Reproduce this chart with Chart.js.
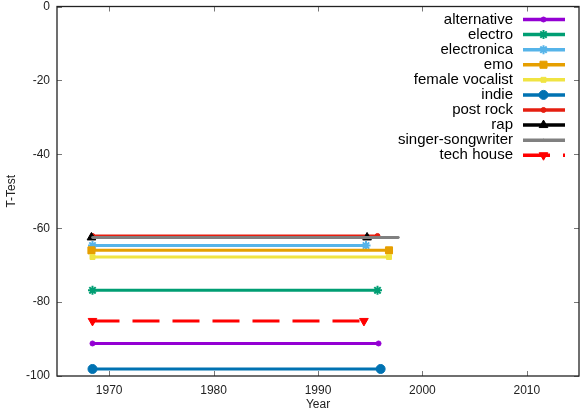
<!DOCTYPE html>
<html>
<head>
<meta charset="utf-8">
<script src="https://cdn.jsdelivr.net/npm/chart.js@4/dist/chart.umd.min.js"></script>
<style>
  html, body { margin: 0; padding: 0; background: #fff; }
</style>
</head>
<body>
<canvas id="myChart" width="587" height="412"></canvas>
<script>
// datos
const genres = ['alternative', 'electro', 'electronica', 'emo', 'female vocalist', 'indie', 'post rock', 'rap', 'singer-songwriter', 'tech house'];
const startYears = [1968.4, 1968.4, 1968.4, 1968.3, 1968.4, 1968.4, 1968.4, 1968.3, 1968.4, 1968.4];
const endYears = [1995.8, 1995.7, 1994.6, 1996.8, 1996.8, 1996.0, 1995.7, 1994.7, 1997.7, 1994.4];
const tTests = [-91.2, -76.8, -64.7, -66.0, -67.8, -98.1, -62.1, -62.5, -62.5, -85.1];
const xTicks = [1970, 1980, 1990, 2000, 2010];
const yTicks = [0, -20, -40, -60, -80, -100];

const colors = ['#9400d3', '#009e73', '#56b4e9', '#e69f00', '#f0e442', '#0072b2', '#e51e10', '#000000', '#808080', '#ff0000'];
const markers = ['circle', 'star', 'star', 'rect', 'rect', 'circle', 'circle', 'triangle', 'circle', 'triangle'];
const markerSize = [2.5, 4.5, 4.5, 5, 3.5, 4.5, 2.5, 5, 1, 5];
const markerRot = [0, 0, 0, 0, 0, 0, 0, 0, 0, 180];
const dashes = [[], [], [], [], [], [], [], [], [], [27, 13]];

const ctx = document.getElementById('myChart');
const font = '"Liberation Sans", Arial, sans-serif';

const datasets = genres.map((g, i) => ({
    label: g,
    data: [{ x: startYears[i], y: tTests[i] }, { x: endYears[i], y: tTests[i] }],
    borderColor: colors[i],
    backgroundColor: colors[i],
    borderWidth: 3,
    borderDash: dashes[i],
    showLine: true,
    pointStyle: markers[i],
    pointRadius: markerSize[i],
    pointRotation: markerRot[i],
    pointBorderWidth: markers[i] === 'star' ? 2 : 1,
    order: -i
}));

// marco con marcas hacia adentro, como gnuplot
const frame = {
    id: 'frame',
    afterDatasetsDraw(chart) {
        const c = chart.ctx;
        const a = chart.chartArea;
        const xs = chart.scales.x, ys = chart.scales.y;
        c.save();
        c.strokeStyle = '#777';
        c.lineWidth = 1;
        xTicks.forEach(t => {
            const px = Math.round(xs.getPixelForValue(t)) + 0.5;
            c.beginPath();
            c.moveTo(px, a.bottom); c.lineTo(px, a.bottom - 5);
            c.moveTo(px, a.top); c.lineTo(px, a.top + 5);
            c.stroke();
        });
        yTicks.forEach(t => {
            const py = Math.round(ys.getPixelForValue(t)) + 0.5;
            c.beginPath();
            c.moveTo(a.left, py); c.lineTo(a.left + 5, py);
            c.moveTo(a.right, py); c.lineTo(a.right - 5, py);
            c.stroke();
        });
        c.strokeStyle = '#222';
        c.lineWidth = 1.3;
        c.strokeRect(a.left, a.top, a.right - a.left, a.bottom - a.top);

        // leyenda
        c.font = '15px ' + font;
        c.textAlign = 'right';
        c.textBaseline = 'middle';
        chart.data.datasets.forEach((ds, i) => {
            const y = 19.5 + i * 15.08;
            c.fillStyle = '#000';
            c.fillText(ds.label, 513, y);
            c.strokeStyle = ds.borderColor;
            c.fillStyle = ds.borderColor;
            c.lineWidth = 3.5;
            c.setLineDash(ds.borderDash);
            c.beginPath();
            c.moveTo(523, y); c.lineTo(565, y);
            c.stroke();
            c.setLineDash([]);
            c.lineWidth = ds.pointBorderWidth;
            Chart.helpers.drawPoint(c, {
                pointStyle: ds.pointStyle,
                radius: ds.pointRadius,
                rotation: ds.pointRotation,
                borderWidth: ds.pointBorderWidth
            }, 543.5, y);
        });
        c.restore();
    }
};

new Chart(ctx, {
    type: 'scatter',
    data: { datasets: datasets },
    options: {
        responsive: false,
        animation: false,
        layout: { padding: { top: 6, right: 8, left: 0, bottom: 0 } },
        plugins: { legend: { display: false }, tooltip: { enabled: false } },
        scales: {
            x: {
                type: 'linear',
                min: 1965,
                max: 2015,
                afterBuildTicks: s => { s.ticks = xTicks.map(v => ({ value: v })); },
                afterFit: s => { s.height = 36; s.paddingLeft = 0; s.paddingRight = 0; },
                grid: { display: false, drawTicks: false },
                border: { display: false },
                ticks: { padding: 7, color: '#222', font: { family: font, size: 12 }, maxRotation: 0, callback: v => String(v) },
                title: { display: true, text: 'Year', color: '#222', padding: { top: 0, bottom: 0 }, font: { family: font, size: 12 } }
            },
            y: {
                min: -100,
                max: 0,
                afterBuildTicks: s => { s.ticks = yTicks.map(v => ({ value: v })); },
                afterFit: s => { s.width = 57; s.paddingTop = 0; s.paddingBottom = 0; },
                grid: { display: false, drawTicks: false },
                border: { display: false },
                ticks: { padding: 7, color: '#222', font: { family: font, size: 12 }, callback: v => String(v) },
                title: { display: true, text: 'T-Test', color: '#222', padding: { top: 4, bottom: 0 }, font: { family: font, size: 12 } }
            }
        }
    },
    plugins: [frame]
});
</script>
</body>
</html>
